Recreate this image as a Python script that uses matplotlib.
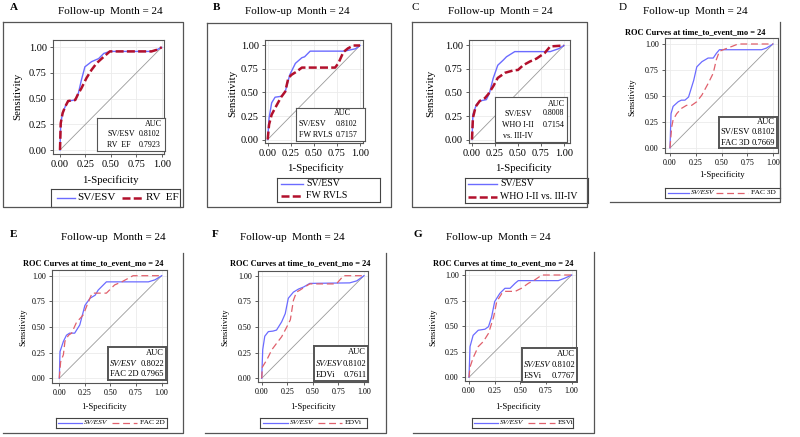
import matplotlib.pyplot as plt
from matplotlib.lines import Line2D

plt.rcParams['font.family'] = ['Liberation Serif', 'DejaVu Serif']

# ---- data (1-specificity, sensitivity) ----
ticks = [0, 0.25, 0.5, 0.75, 1.0]
tick_labels = ['0.00', '0.25', '0.50', '0.75', '1.00']

sv_a_fpr = [0, 0.007, 0.026, 0.05, 0.08, 0.15, 0.18, 0.21, 0.245, 0.31, 0.38, 0.43, 0.49, 0.90, 0.95, 1.0]
sv_a_tpr = [0, 0.26, 0.36, 0.42, 0.477, 0.487, 0.55, 0.68, 0.81, 0.86, 0.89, 0.94, 0.96, 0.96, 0.975, 1.0]
rvef_fpr = [0, 0.007, 0.026, 0.05, 0.08, 0.15, 0.18, 0.21, 0.26, 0.31, 0.36, 0.41, 0.49, 0.90, 0.95, 1.0]
rvef_tpr = [0, 0.26, 0.36, 0.42, 0.477, 0.487, 0.55, 0.60, 0.70, 0.78, 0.845, 0.89, 0.96, 0.96, 0.975, 1.0]

sv_b_fpr = [0, 0.015, 0.043, 0.08, 0.15, 0.19, 0.24, 0.30, 0.37, 0.40, 0.46, 0.83, 0.95, 1.0]
sv_b_tpr = [0, 0.23, 0.39, 0.45, 0.46, 0.51, 0.69, 0.81, 0.87, 0.88, 0.94, 0.94, 0.965, 1.0]
rvls_fpr = [0, 0.015, 0.043, 0.10, 0.145, 0.19, 0.224, 0.26, 0.31, 0.37, 0.73, 0.765, 0.82, 0.87, 0.93, 1.0]
rvls_tpr = [0, 0.16, 0.265, 0.37, 0.45, 0.51, 0.655, 0.69, 0.72, 0.765, 0.765, 0.81, 0.93, 0.97, 1.0, 1.0]

sv_c_fpr = [0, 0.01, 0.047, 0.084, 0.156, 0.19, 0.23, 0.28, 0.34, 0.375, 0.465, 0.85, 0.94, 1.0]
sv_c_tpr = [0, 0.265, 0.37, 0.41, 0.424, 0.495, 0.65, 0.79, 0.845, 0.88, 0.935, 0.935, 0.965, 1.0]
who_fpr = [0, 0.01, 0.04, 0.084, 0.14, 0.175, 0.23, 0.28, 0.36, 0.45, 0.5, 0.556, 0.63, 0.70, 0.79, 0.85, 1.0]
who_tpr = [0, 0.23, 0.35, 0.41, 0.44, 0.48, 0.565, 0.655, 0.71, 0.735, 0.74, 0.79, 0.83, 0.86, 0.92, 0.99, 1.0]

sv_d_fpr = [0, 0.01, 0.03, 0.08, 0.11, 0.145, 0.18, 0.23, 0.26, 0.31, 0.37, 0.42, 0.45, 0.48, 0.89, 0.935, 1.0]
sv_d_tpr = [0, 0.33, 0.40, 0.445, 0.46, 0.46, 0.49, 0.65, 0.78, 0.83, 0.865, 0.865, 0.91, 0.945, 0.945, 0.96, 1.0]
fac3d_fpr = [0, 0.016, 0.03, 0.065, 0.11, 0.16, 0.21, 0.26, 0.31, 0.37, 0.42, 0.45, 0.48, 0.53, 0.61, 0.66, 1.0]
fac3d_tpr = [0, 0.20, 0.27, 0.33, 0.38, 0.41, 0.41, 0.445, 0.51, 0.62, 0.72, 0.85, 0.93, 0.95, 0.98, 1.0, 1.0]

sv_e_fpr = [0, 0.007, 0.04, 0.07, 0.10, 0.15, 0.20, 0.25, 0.30, 0.35, 0.38, 0.46, 0.87, 0.935, 1.0]
sv_e_tpr = [0, 0.26, 0.36, 0.42, 0.44, 0.44, 0.52, 0.71, 0.78, 0.81, 0.86, 0.94, 0.94, 0.96, 1.0]
fac2d_fpr = [0, 0.013, 0.04, 0.055, 0.09, 0.12, 0.17, 0.20, 0.235, 0.27, 0.32, 0.46, 0.54, 0.61, 0.72, 1.0]
fac2d_tpr = [0, 0.16, 0.23, 0.36, 0.42, 0.44, 0.55, 0.58, 0.62, 0.71, 0.83, 0.83, 0.91, 0.94, 1.0, 1.0]

sv_f_fpr = [0, 0.01, 0.03, 0.065, 0.11, 0.145, 0.195, 0.23, 0.26, 0.31, 0.36, 0.41, 0.47, 0.86, 0.93, 1.0]
sv_f_tpr = [0, 0.28, 0.41, 0.455, 0.46, 0.47, 0.55, 0.63, 0.78, 0.84, 0.87, 0.89, 0.925, 0.93, 0.95, 1.0]
edvi_fpr = [0, 0.007, 0.05, 0.10, 0.145, 0.195, 0.245, 0.28, 0.31, 0.34, 0.375, 0.42, 0.47, 0.73, 0.765, 0.80, 1.0]
edvi_tpr = [0, 0.11, 0.18, 0.28, 0.34, 0.405, 0.50, 0.57, 0.76, 0.84, 0.86, 0.89, 0.92, 0.92, 0.96, 1.0, 1.0]

sv_g_fpr = [0, 0.01, 0.04, 0.09, 0.155, 0.19, 0.22, 0.25, 0.30, 0.35, 0.40, 0.45, 0.48, 0.87, 0.935, 1.0]
sv_g_tpr = [0, 0.30, 0.41, 0.46, 0.47, 0.495, 0.59, 0.74, 0.82, 0.87, 0.87, 0.92, 0.945, 0.945, 0.97, 1.0]
esvi_fpr = [0, 0.01, 0.04, 0.09, 0.14, 0.19, 0.24, 0.27, 0.32, 0.35, 0.45, 0.51, 0.58, 0.63, 0.71, 1.0]
esvi_tpr = [0, 0.10, 0.19, 0.30, 0.35, 0.43, 0.59, 0.74, 0.82, 0.84, 0.84, 0.87, 0.92, 0.945, 1.0, 1.0]

W, H = 800, 437
BLUE = '#6b6bff'
DARKRED = '#b2102c'
LIGHTRED = '#e0606c'

fig = plt.figure(figsize=(8, 4.37), dpi=100)


def rect(x0, y0, x1, y1):
    return [x0 / W, 1 - y1 / H, (x1 - x0) / W, (y1 - y0) / H]


def ftext(x, y, s, **kw):
    fig.text(x / W, 1 - y / H, s, **kw)


def fline(xs, ys, **kw):
    fig.add_artist(Line2D([x / W for x in xs], [1 - y / H for y in ys], **kw))


def panel(p):
    big = p['big']
    x0, y0, x1, y1 = p['box']
    dx0, dx1, dy0, dy1 = p['data_px']
    ax = fig.add_axes(rect(x0, y0, x1, y1))
    sx = dx1 - dx0
    sy = dy0 - dy1
    ax.set_xlim((x0 - dx0) / sx, (x1 - dx0) / sx)
    ax.set_ylim((dy0 - y1) / sy, (dy0 - y0) / sy)
    ax.grid(color='#ebebeb', lw=0.6)
    ax.set_axisbelow(True)
    ax.plot([0, 1], [0, 1], color='#9a9a9a', lw=0.6)
    if big:
        red_style = dict(color=DARKRED, lw=1.8, dashes=(3.2, 1.3))
        blue_style = dict(color=BLUE, lw=1.0)
    else:
        red_style = dict(color=LIGHTRED, lw=0.9, dashes=(5.5, 3))
        blue_style = dict(color=BLUE, lw=0.9)
    ax.plot(p['sv'][0], p['sv'][1], **blue_style)
    ax.plot(p['other'][0], p['other'][1], **red_style)
    ax.set_xticks(ticks)
    ax.set_yticks(ticks)
    ax.set_xticklabels(tick_labels)
    ax.set_yticklabels(tick_labels)
    ax.tick_params(length=2.5, width=0.6, pad=2, labelsize=7.4 if big else 5.8,
                   color='#444444')
    for s in ax.spines.values():
        s.set_color('#555555')
        s.set_linewidth(0.8)

    # titles and labels
    lx, ly, lbold = p['letter']
    ftext(lx, ly, p['name'], fontsize=8, fontweight='bold' if lbold else 'normal',
          ha='left', va='center')
    tx, ty = p['title']
    ftext(tx, ty, 'Follow-up  Month = 24', fontsize=8, ha='center', va='center')
    if 'subtitle' in p:
        stx, sty = p['subtitle']
        ftext(stx, sty, 'ROC Curves at time_to_event_mo = 24', fontsize=6,
              fontweight='bold', ha='center', va='center')
    yx, yy = p['ylabel']
    ftext(yx, yy, 'Sensitivity', fontsize=7.8 if big else 6.2, rotation=90,
          ha='center', va='center')
    xx, xy = p['xlabel']
    ftext(xx, xy, '1-Specificity', fontsize=7.8 if big else 6.3,
          ha='center', va='center')

    # outer frame
    fx0, fy0, fx1, fy1 = p['frame']
    if big:
        fline([fx0, fx1, fx1, fx0, fx0], [fy0, fy0, fy1, fy1, fy0], color='#555555', lw=0.9)
    else:
        fline([fx0, fx1, fx1], [fy1, fy1, fy0], color='#555555', lw=0.9)

    # legend box drawn by hand: swatch span and text position in pixels
    gx0, gy0, gx1, gy1 = p['legend']
    lax = fig.add_axes(rect(gx0, gy0, gx1, gy1))
    lax.set_xlim(gx0, gx1)
    lax.set_ylim(gy1, gy0)
    lax.set_xticks([])
    lax.set_yticks([])
    for s in lax.spines.values():
        s.set_color('#444444')
        s.set_linewidth(0.8)
    labels = ['SV/ESV', p['other_name']]
    styles = [blue_style, red_style]
    for (sx0, sx1, tx_, ly_), lab, st in zip(p['legend_items'], labels, styles):
        lax.add_line(Line2D([sx0, sx1], [ly_, ly_], **st))
        lax.text(tx_, ly_, lab, ha='left', va='center', fontsize=p['legend_fs'],
                 style='italic' if (lab == 'SV/ESV' and not big) else 'normal')

    # AUC box
    bx0, by0, bx1, by1 = p['auc_box']
    bax = fig.add_axes(rect(bx0, by0, bx1, by1))
    bax.set_xticks([])
    bax.set_yticks([])
    for s in bax.spines.values():
        s.set_color('#555555')
        s.set_linewidth(0.8 if big else 1.4)
    for txt, tx_, ty_, ha, kw in p['auc_rows']:
        bax.text(tx_, ty_, txt, transform=bax.transAxes, ha=ha, va='center', **kw)


fs_a = dict(fontsize=5.8)
fs_s = dict(fontsize=6.1)
it_s = dict(fontsize=6.1, style='italic')

panels = [
    dict(name='A', big=True, box=(53, 40, 164, 154), data_px=(60, 161.7, 150, 47.3),
         sv=(sv_a_fpr, sv_a_tpr), other=(rvef_fpr, rvef_tpr), other_name='RV  EF',
         letter=(10, 7, True), title=(110, 12), ylabel=(18, 96), xlabel=(110, 180),
         frame=(3, 22, 183, 207), legend=(51, 189, 180, 207), legend_fs=8,
         legend_items=[(57, 75, 77, 198), (122, 143, 146, 198)],
         auc_box=(97, 118, 165, 151),
         auc_rows=[('AUC', 0.96, 0.82, 'right', fs_a),
                   ('SV/ESV', 0.15, 0.50, 'left', fs_a), ('0.8102', 0.62, 0.50, 'left', fs_a),
                   ('RV  EF', 0.15, 0.18, 'left', fs_a), ('0.7923', 0.62, 0.18, 'left', fs_a)]),
    dict(name='B', big=True, box=(265, 40, 363, 143), data_px=(267.7, 360, 139.5, 45.5),
         sv=(sv_b_fpr, sv_b_tpr), other=(rvls_fpr, rvls_tpr), other_name='FW RVLS',
         letter=(213, 7, True), title=(297, 12), ylabel=(233, 93), xlabel=(315, 168),
         frame=(207, 23, 391, 207), legend=(277, 178, 380, 202), legend_fs=7,
         legend_items=[(281, 303, 306, 184), (281, 303, 306, 196)],
         auc_box=(296, 108, 365, 141),
         auc_rows=[('AUC', 0.80, 0.84, 'right', fs_a),
                   ('SV/ESV', 0.04, 0.52, 'left', fs_a), ('0.8102', 0.58, 0.52, 'left', fs_a),
                   ('FW RVLS', 0.04, 0.18, 'left', fs_a), ('0.7157', 0.58, 0.18, 'left', fs_a)]),
    dict(name='C', big=True, box=(469, 40, 570, 143), data_px=(472, 564, 139.5, 45.5),
         sv=(sv_c_fpr, sv_c_tpr), other=(who_fpr, who_tpr), other_name='WHO I-II vs. III-IV',
         letter=(412, 7, False), title=(500, 12), ylabel=(431, 93), xlabel=(523, 168),
         frame=(412, 22, 587, 207), legend=(465, 178, 588, 203), legend_fs=7,
         legend_items=[(468, 497, 500, 184), (468, 497, 500, 197)],
         auc_box=(495, 97, 567, 142),
         auc_rows=[('AUC', 0.97, 0.84, 'right', fs_a),
                   ('SV/ESV', 0.32, 0.62, 'center', fs_a), ('0.8008', 0.67, 0.64, 'left', fs_a),
                   ('WHO I-II', 0.32, 0.38, 'center', fs_a), ('0.7154', 0.67, 0.38, 'left', fs_a),
                   ('vs. III-IV', 0.32, 0.14, 'center', fs_a)]),
    dict(name='D', big=False, box=(665, 38, 778, 153), data_px=(670, 773, 148, 44),
         sv=(sv_d_fpr, sv_d_tpr), other=(fac3d_fpr, fac3d_tpr), other_name='FAC 3D',
         letter=(619, 7, False), title=(695, 12), subtitle=(695, 32), ylabel=(632, 97),
         xlabel=(722, 175), frame=(610, 22, 780, 202), legend=(665, 188, 780, 198),
         legend_fs=5.4, legend_items=[(668, 689, 691, 193), (716, 748, 751, 193)],
         auc_box=(719, 117, 777, 148),
         auc_rows=[('AUC', 0.97, 0.83, 'right', fs_s),
                   ('SV/ESV', 0.03, 0.50, 'left', fs_s), ('0.8102', 0.97, 0.50, 'right', fs_s),
                   ('FAC 3D', 0.03, 0.17, 'left', fs_s), ('0.7669', 0.97, 0.17, 'right', fs_s)]),
    dict(name='E', big=False, box=(52, 270, 167, 383), data_px=(59.3, 161.7, 378.3, 275.7),
         sv=(sv_e_fpr, sv_e_tpr), other=(fac2d_fpr, fac2d_tpr), other_name='FAC 2D',
         letter=(10, 234, True), title=(113, 238), subtitle=(93, 263), ylabel=(23, 327),
         xlabel=(104, 407), frame=(3, 253, 183, 433), legend=(56, 418, 167, 428),
         legend_fs=5.4, legend_items=[(58, 82, 84, 423), (112, 137, 140, 423)],
         auc_box=(108, 347, 166, 380),
         auc_rows=[('AUC', 0.97, 0.83, 'right', fs_s),
                   ('SV/ESV', 0.03, 0.50, 'left', it_s), ('0.8022', 0.97, 0.50, 'right', fs_s),
                   ('FAC 2D', 0.03, 0.17, 'left', fs_s), ('0.7965', 0.97, 0.17, 'right', fs_s)]),
    dict(name='F', big=False, box=(258, 271, 368, 381.7), data_px=(261.7, 364, 378.3, 275.7),
         sv=(sv_f_fpr, sv_f_tpr), other=(edvi_fpr, edvi_tpr), other_name='EDVi',
         letter=(212, 234, True), title=(292, 238), subtitle=(300, 263), ylabel=(225, 327),
         xlabel=(313, 407), frame=(205, 253, 386, 433), legend=(260, 418, 367, 428),
         legend_fs=5.4, legend_items=[(263, 288, 290, 423), (318, 342, 345, 423)],
         auc_box=(314, 346, 368, 381),
         auc_rows=[('AUC', 0.97, 0.83, 'right', fs_s),
                   ('SV/ESV', 0.03, 0.50, 'left', it_s), ('0.8102', 0.97, 0.50, 'right', fs_s),
                   ('EDVi', 0.03, 0.17, 'left', fs_s), ('0.7611', 0.97, 0.17, 'right', fs_s)]),
    dict(name='G', big=False, box=(465, 270, 575.7, 380.7), data_px=(469, 571.7, 377.3, 275),
         sv=(sv_g_fpr, sv_g_tpr), other=(esvi_fpr, esvi_tpr), other_name='ESVi',
         letter=(414, 234, True), title=(498, 238), subtitle=(503, 263), ylabel=(433, 327),
         xlabel=(518, 407), frame=(413, 252, 594, 433), legend=(472, 418, 573, 428),
         legend_fs=5.4, legend_items=[(474, 498, 500, 423), (528, 555, 558, 423)],
         auc_box=(522, 348, 577, 382),
         auc_rows=[('AUC', 0.97, 0.83, 'right', fs_s),
                   ('SV/ESV', 0.03, 0.50, 'left', it_s), ('0.8102', 0.97, 0.50, 'right', fs_s),
                   ('ESVi', 0.03, 0.17, 'left', fs_s), ('0.7767', 0.97, 0.17, 'right', fs_s)]),
]

for p in panels:
    panel(p)

fig.savefig('out.png', dpi=100, facecolor='white')
